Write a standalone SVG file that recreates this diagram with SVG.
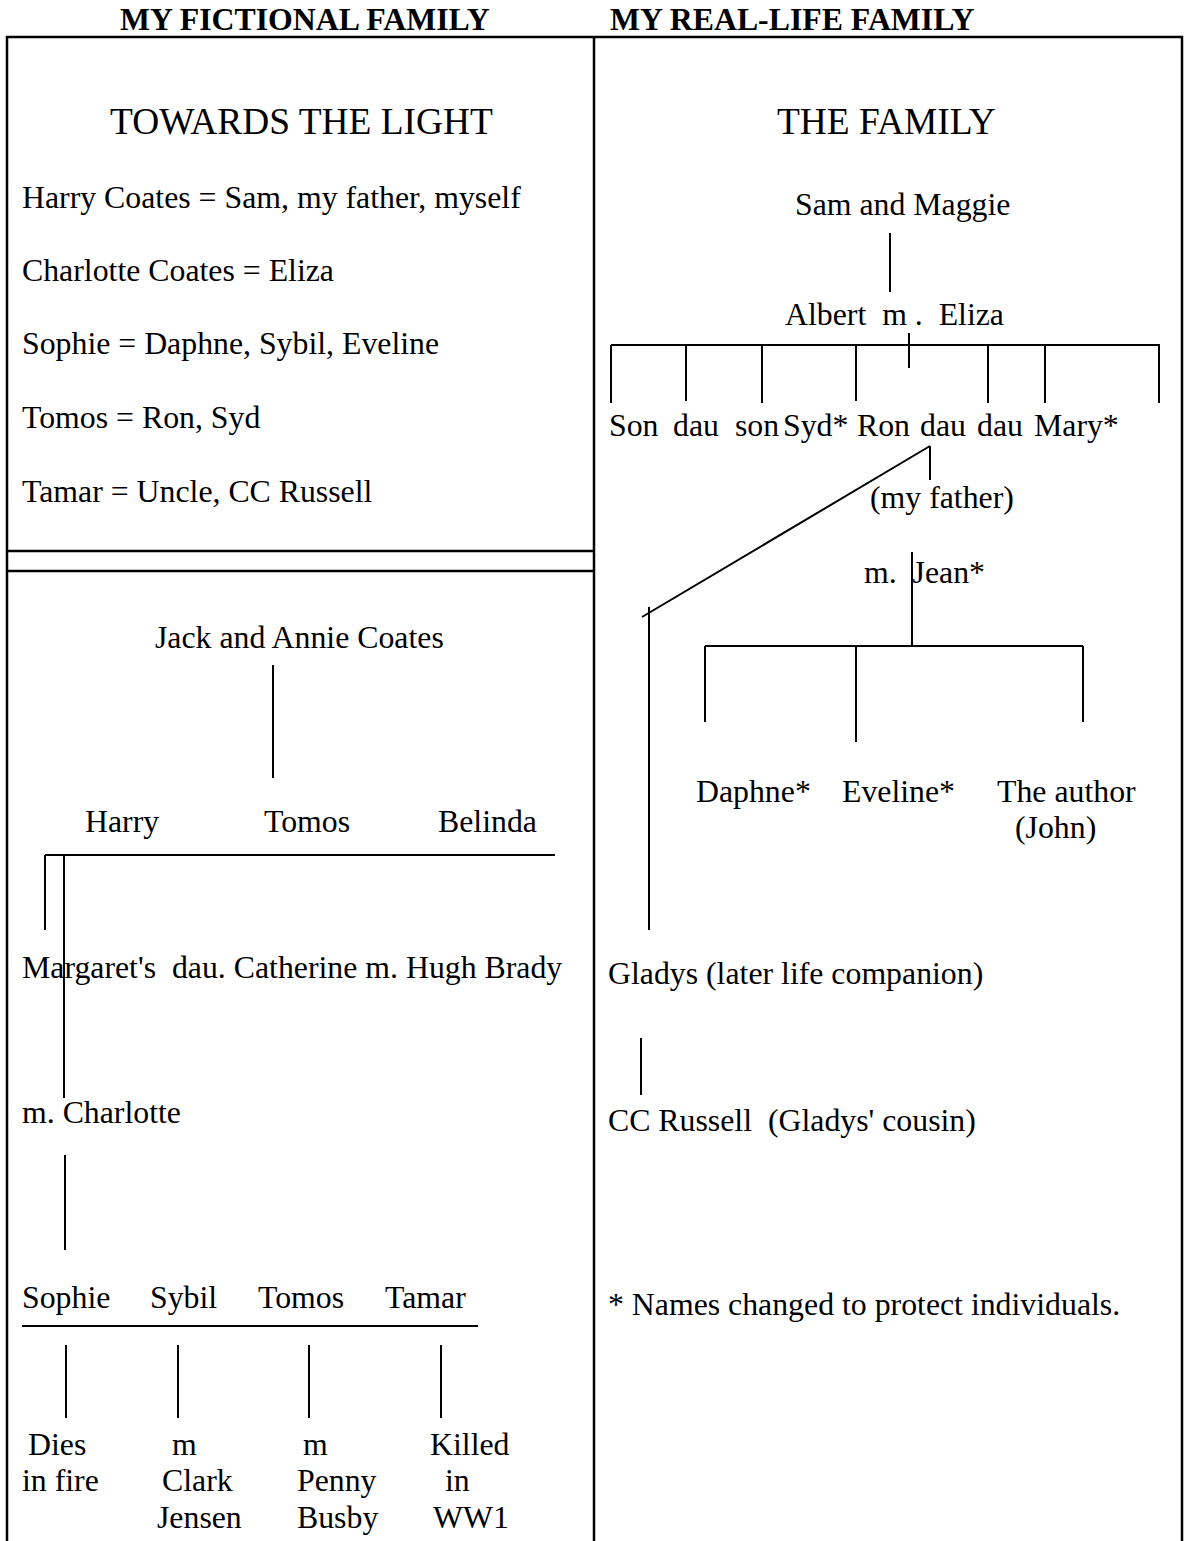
<svg xmlns="http://www.w3.org/2000/svg" width="1187" height="1541" viewBox="0 0 1187 1541">
<style>
text{font-family:"Liberation Serif","Times New Roman",serif;font-size:31.8px;fill:#000}
.h{font-weight:bold;font-size:31.8px}
.t{font-size:37.4px}
.ln{stroke:#000;stroke-width:2;fill:none}
.fr{stroke:#000;stroke-width:2.5;fill:none}
</style>
<rect width="1187" height="1541" fill="#fff"/>
<g id="frame">
<path class="fr" d="M7,1541 V37 H1182 V1541 M594,37 V1541 M7,551 H594 M7,571 H594"/>
</g>
<g id="headers">
<text class="h" x="120" y="30">MY FICTIONAL FAMILY</text>
<text class="h" x="610" y="30">MY REAL-LIFE FAMILY</text>
</g>
<g id="key">
<text class="t" x="110" y="134">TOWARDS THE LIGHT</text>
<text x="22" y="208">Harry Coates = Sam, my father, myself</text>
<text x="22" y="281">Charlotte Coates = Eliza</text>
<text x="22" y="354">Sophie = Daphne, Sybil, Eveline</text>
<text x="22" y="428">Tomos = Ron, Syd</text>
<text x="22" y="502">Tamar = Uncle, CC Russell</text>
</g>
<g id="connectors">
<path class="ln" d="M273,665 V778 M45,855 H555 M45,855 V930 M64,855 V1098 M65,1155 V1250 M22,1326 H478 M66,1345 V1418 M178,1345 V1418 M309,1345 V1418 M441,1345 V1418"/>
<path class="ln" d="M890,233 V292 M611,345 H1160 M909,333 V368 M611,345 V403 M686,345 V401 M762,345 V403 M856,345 V401 M988,345 V403 M1045,345 V403 M1159,345 V403"/>
<path class="ln" d="M930,446 L642,617 M930,446 V480 M649,607 V930 M912,552 V646 M705,646 H1083 M705,646 V722 M856,646 V742 M1083,646 V722 M641,1038 V1095"/>
</g>
<g id="node-jack-annie"><text x="155" y="648">Jack and Annie Coates</text></g>
<g id="node-harry"><text x="85" y="832">Harry</text></g>
<g id="node-tomos"><text x="264" y="832">Tomos</text></g>
<g id="node-belinda"><text x="438" y="832">Belinda</text></g>
<g id="node-margaret"><text x="22" y="978" xml:space="preserve">Margaret's  dau. Catherine m. Hugh Brady</text></g>
<g id="node-charlotte"><text x="22" y="1123">m. Charlotte</text></g>
<g id="node-children">
<text x="22" y="1308">Sophie</text>
<text x="150" y="1308">Sybil</text>
<text x="258" y="1308">Tomos</text>
<text x="385" y="1308">Tamar</text>
</g>
<g id="node-fates">
<text x="28" y="1455">Dies</text>
<text x="22" y="1491">in fire</text>
<text x="172" y="1455">m</text>
<text x="162" y="1491">Clark</text>
<text x="157" y="1528">Jensen</text>
<text x="303" y="1455">m</text>
<text x="297" y="1491">Penny</text>
<text x="297" y="1528">Busby</text>
<text x="430" y="1455">Killed</text>
<text x="445" y="1491">in</text>
<text x="433" y="1528">WW1</text>
</g>
<g id="node-the-family"><text class="t" x="777" y="134">THE FAMILY</text></g>
<g id="node-sam-maggie"><text x="795" y="215">Sam and Maggie</text></g>
<g id="node-albert-eliza"><text x="785" y="325" xml:space="preserve">Albert  m .  Eliza</text></g>
<g id="node-siblings">
<text x="609" y="436">Son</text>
<text x="673" y="436">dau</text>
<text x="735" y="436">son</text>
<text x="783" y="436">Syd*</text>
<text x="857" y="436">Ron</text>
<text x="920" y="436">dau</text>
<text x="977" y="436">dau</text>
<text x="1034" y="436">Mary*</text>
</g>
<g id="node-my-father"><text x="870" y="508">(my father)</text></g>
<g id="node-jean"><text x="864" y="583" xml:space="preserve">m.  Jean*</text></g>
<g id="node-daphne"><text x="696" y="802">Daphne*</text></g>
<g id="node-eveline"><text x="842" y="802">Eveline*</text></g>
<g id="node-author"><text x="997" y="802">The author</text><text x="1015" y="838">(John)</text></g>
<g id="node-gladys"><text x="608" y="984">Gladys (later life companion)</text></g>
<g id="node-cc-russell"><text x="608" y="1131" xml:space="preserve">CC Russell  (Gladys' cousin)</text></g>
<g id="note"><text x="608" y="1315">* Names changed to protect individuals.</text></g>
</svg>
